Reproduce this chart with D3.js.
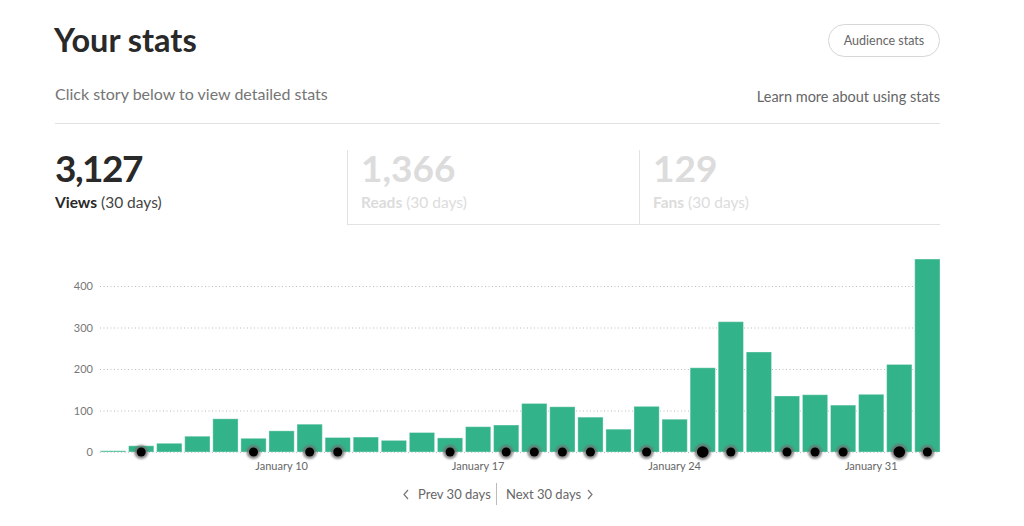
<!DOCTYPE html>
<html>
<head>
<meta charset="utf-8">
<script src="https://cdn.jsdelivr.net/npm/d3@7"></script>
<style>
  html, body { margin: 0; padding: 0; background: #fff; }
  svg { display: block; font-family: "Lato", "Noto Sans", sans-serif; }
</style>
</head>
<body>
<svg id="chart" width="1024" height="526"></svg>
<script>
// ---- data ----
const days = ["January 4","January 5","January 6","January 7","January 8","January 9","January 10",
  "January 11","January 12","January 13","January 14","January 15","January 16","January 17",
  "January 18","January 19","January 20","January 21","January 22","January 23","January 24",
  "January 25","January 26","January 27","January 28","January 29","January 30","January 31",
  "February 1","February 2"];
const views = [3,15,21,38,80,33,51,67,35,36,28,47,34,61,65,117,109,84,55,110,79,203,314,241,135,138,113,139,211,465];
const storyDays = ["January 5","January 9","January 11","January 12","January 16","January 18","January 19",
  "January 20","January 21","January 23","January 25","January 26","January 28","January 29",
  "January 30","February 1","February 2"];
const storyCounts = [1,1,1,1,1,1,1,1,1,1,2,1,1,1,1,2,1];
const yTicks = [0,100,200,300,400];
const xTickLabels = ["January 10","January 17","January 24","January 31"];
const statValues = ["3,127","1,366","129"];
const statNames = ["Views","Reads","Fans"];

// ---- drawing ----
const svg = d3.select("#chart");
const dark = "#292929";

// header
svg.append("text").attr("x", 54).attr("y", 52).attr("font-size", 32.5).attr("font-weight", 700)
  .attr("fill", dark).text("Your stats");
svg.append("text").attr("x", 55).attr("y", 100).attr("font-size", 16).attr("fill", "#757575")
  .text("Click story below to view detailed stats");
svg.append("rect").attr("x", 828.5).attr("y", 24.5).attr("width", 111).attr("height", 32).attr("rx", 16)
  .attr("fill", "#fff").attr("stroke", "#d6d6d6");
svg.append("text").attr("x", 884).attr("y", 45).attr("text-anchor", "middle").attr("font-size", 12.5)
  .attr("fill", "#666").text("Audience stats");
svg.append("text").attr("x", 940).attr("y", 102).attr("text-anchor", "end").attr("font-size", 14.5)
  .attr("fill", "#666").text("Learn more about using stats");
svg.append("line").attr("x1", 55).attr("x2", 940).attr("y1", 123.5).attr("y2", 123.5).attr("stroke", "#e2e2e2");

// stat tabs
const tabX = [55, 361, 653];
statValues.forEach((v, i) => {
  const active = i === 0;
  const col = active ? dark : "#dcdcdc";
  svg.append("text").attr("x", tabX[i]).attr("y", 182).attr("font-size", 37).attr("font-weight", 700)
    .attr("fill", col).attr("letter-spacing", active ? -1.5 : 0).text(v);
  const t = svg.append("text").attr("x", tabX[i]).attr("y", 208).attr("font-size", 15.5).attr("fill", col);
  t.append("tspan").attr("font-weight", 700).text(statNames[i]);
  t.append("tspan").attr("fill", active ? "#444" : "#dcdcdc").text(" (30 days)");
});
[347.5, 639.5].forEach(x => {
  svg.append("line").attr("x1", x).attr("x2", x).attr("y1", 150).attr("y2", 224).attr("stroke", "#e2e2e2");
});
svg.append("line").attr("x1", 347).attr("x2", 940).attr("y1", 224.5).attr("y2", 224.5).attr("stroke", "#e2e2e2");

// chart
const x = d3.scaleBand().domain(days).range([100.5, 940]).paddingInner(0.1).paddingOuter(0);
const y = d3.scaleLinear().domain([0, 400]).range([452, 286]);

const yAxis = svg.append("g").attr("transform", "translate(100,0)")
  .call(d3.axisLeft(y).tickValues(yTicks).tickSize(-840).tickPadding(7));
yAxis.select(".domain").remove();
yAxis.selectAll("line").attr("stroke", "#bdbdbd").attr("stroke-dasharray", "1,2.5");
yAxis.selectAll("text").attr("font-size", 11).attr("fill", "#777").attr("font-family", "Lato, 'Noto Sans', sans-serif");

svg.append("g").selectAll("rect").data(days).join("rect")
  .attr("x", d => x(d))
  .attr("width", x.bandwidth())
  .attr("y", (d, i) => y(views[i]))
  .attr("height", (d, i) => y(0) - y(views[i]))
  .attr("fill", "#33b38a")
  .attr("stroke", "rgba(255,255,255,0.35)").attr("stroke-width", 1);

const xAxis = svg.append("g").attr("transform", "translate(0,458)")
  .call(d3.axisBottom(x).tickValues(xTickLabels).tickSize(0).tickPadding(4));
xAxis.select(".domain").remove();
xAxis.selectAll("text").attr("font-size", 11).attr("fill", "#666").attr("font-family", "Lato, 'Noto Sans', sans-serif");

// story dots
const defs = svg.append("defs");
defs.append("filter").attr("id", "soft").attr("x", "-50%").attr("y", "-50%").attr("width", "200%").attr("height", "200%")
  .append("feGaussianBlur").attr("stdDeviation", 1);
const r = d3.scaleOrdinal().domain([1, 2]).range([4.5, 5.8]);
const dots = svg.append("g").selectAll("g").data(storyDays).join("g")
  .attr("transform", d => `translate(${x(d) + x.bandwidth() / 2},${y(0)})`);
dots.append("circle").attr("r", (d, i) => r(storyCounts[i]) + 2.5).attr("fill", "#6e6e6e")
  .attr("opacity", 0.8).attr("filter", "url(#soft)");
dots.append("circle").attr("r", (d, i) => r(storyCounts[i])).attr("fill", "#000");

// footer
svg.append("text").attr("x", 418).attr("y", 499).attr("font-size", 13).attr("fill", "#666").text("Prev 30 days");
svg.append("text").attr("x", 506).attr("y", 499).attr("font-size", 13).attr("fill", "#666").text("Next 30 days");
svg.append("line").attr("x1", 496.5).attr("x2", 496.5).attr("y1", 483).attr("y2", 505).attr("stroke", "#bbb");
svg.append("path").attr("d", "M408,490 L404,494.5 L408,499").attr("fill", "none").attr("stroke", "#777").attr("stroke-width", 1.2);
svg.append("path").attr("d", "M588,490 L592,494.5 L588,499").attr("fill", "none").attr("stroke", "#777").attr("stroke-width", 1.2);
</script>
</body>
</html>
